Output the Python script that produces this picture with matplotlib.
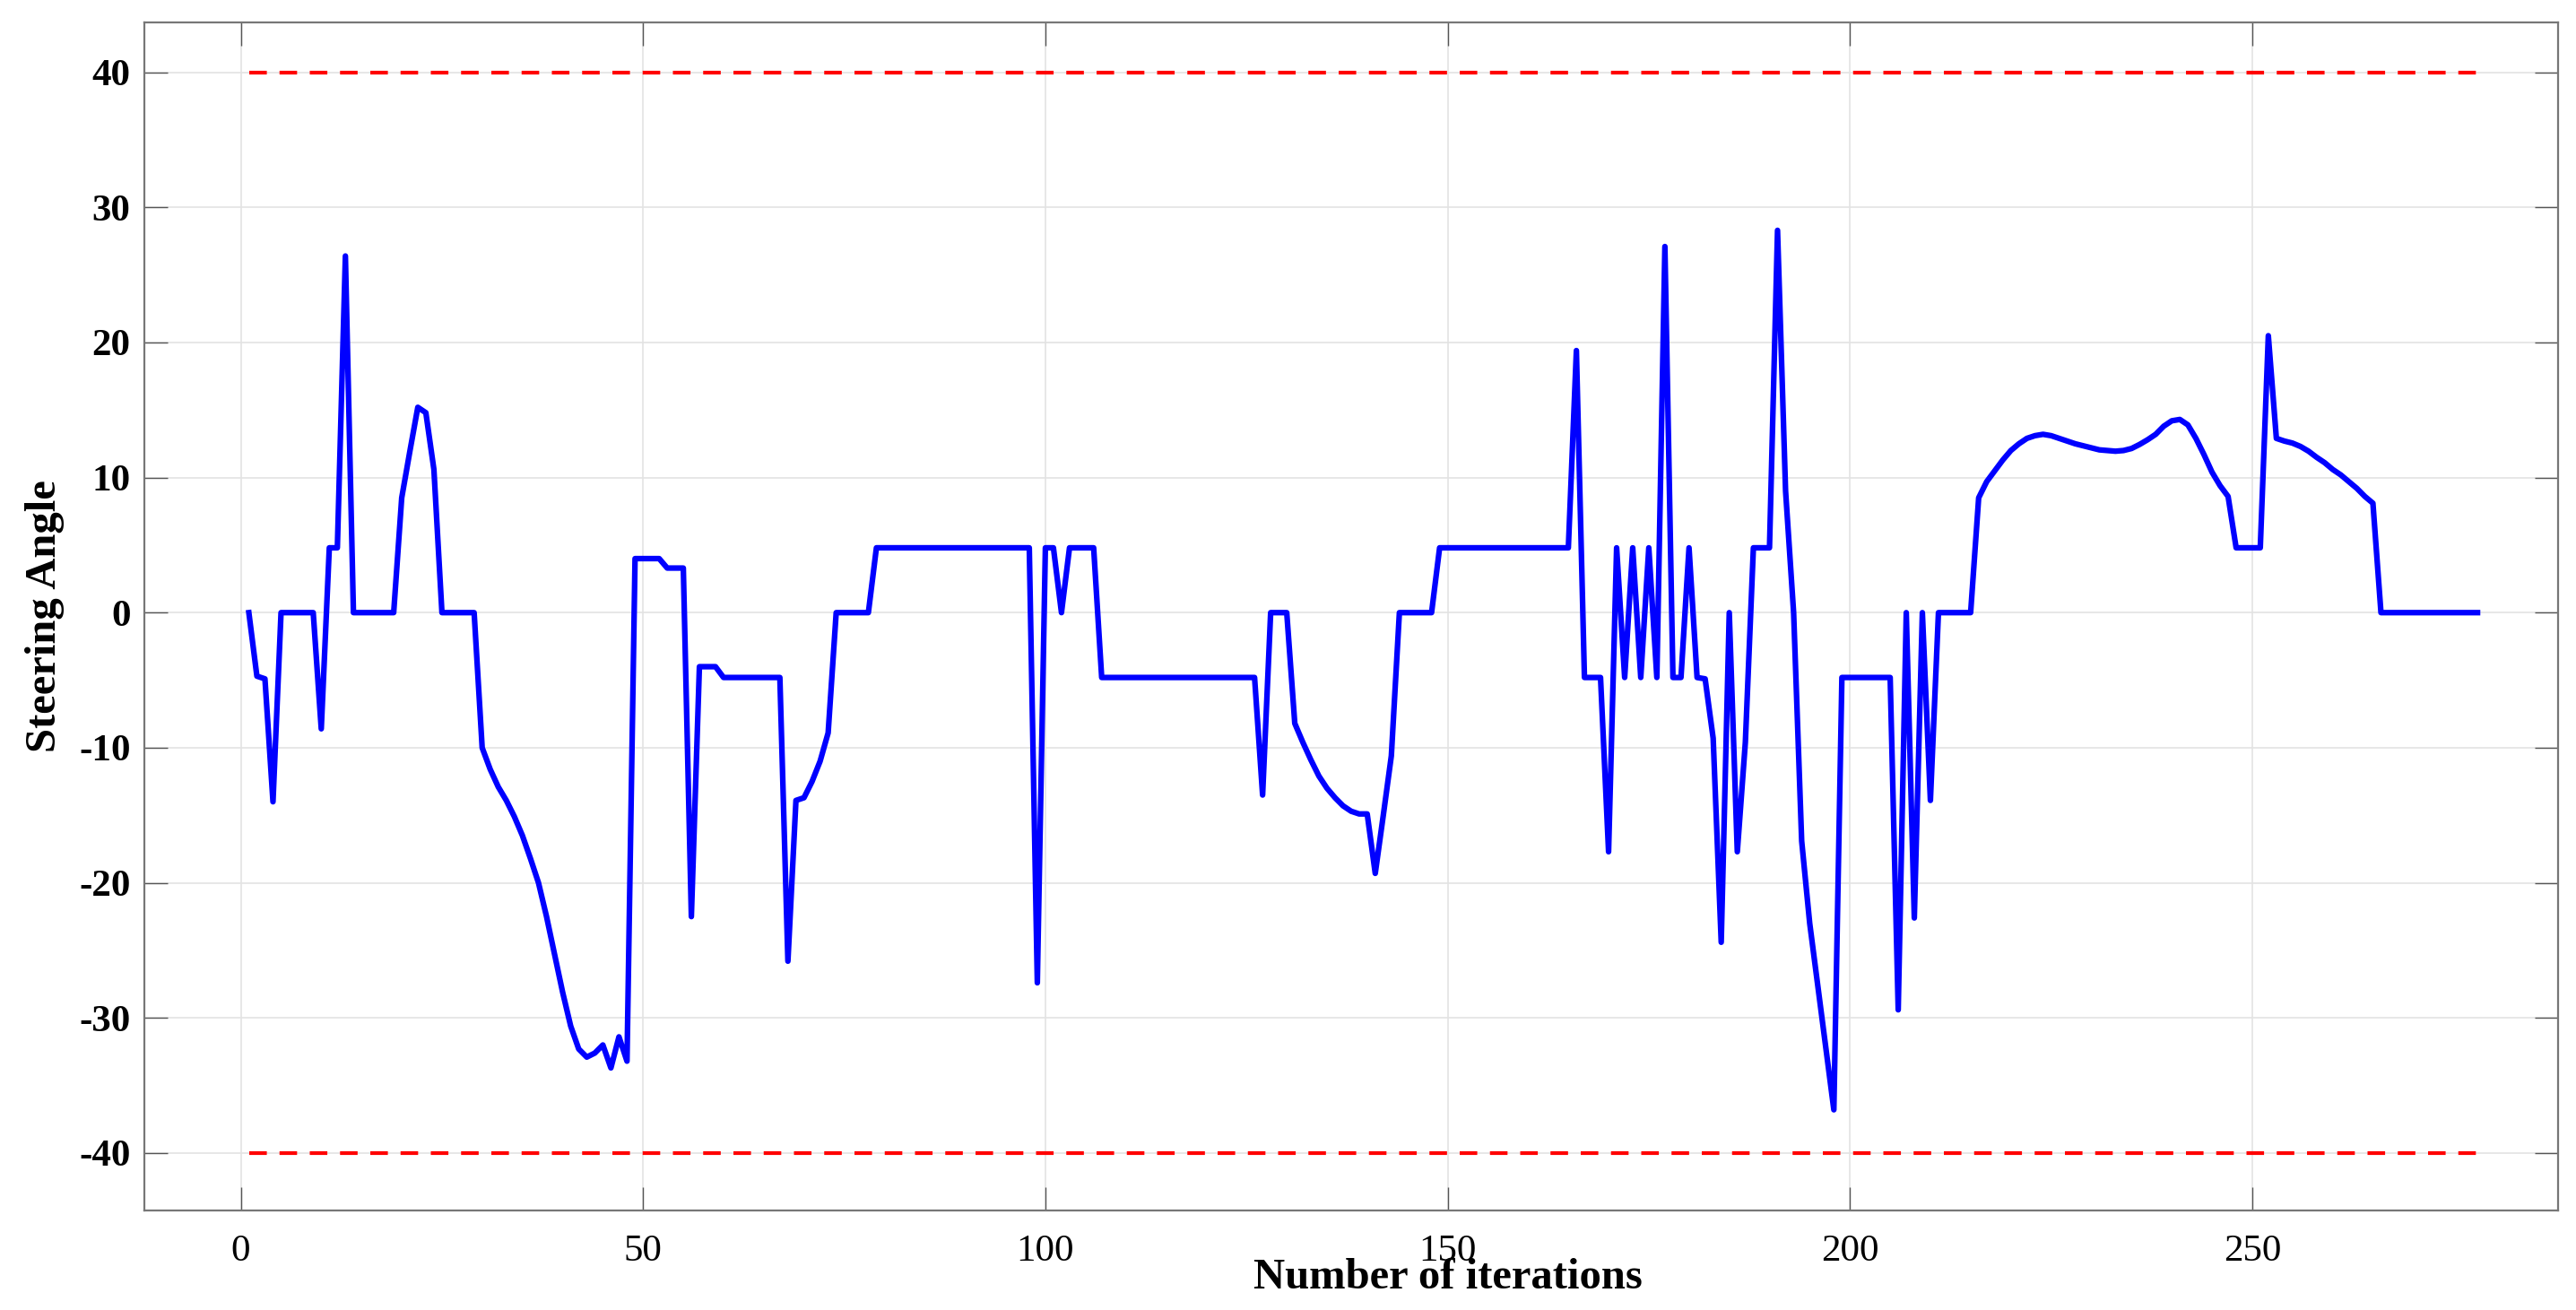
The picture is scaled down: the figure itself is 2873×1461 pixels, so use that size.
import numpy as np
import matplotlib
matplotlib.use("Agg")
import matplotlib.pyplot as plt

# steering angle, one value per iteration (1..278)
steering = (
    [0, -4.7, -4.9, -14.0, 0, 0, 0, 0, 0, -8.6, 4.8, 4.8, 26.4, 0, 0, 0, 0, 0, 0]
    + [8.5, 11.9, 15.2, 14.8, 10.6, 0, 0, 0, 0, 0]
    + [-10.0, -11.6, -12.9, -13.9, -15.1, -16.5, -18.2, -20.0, -22.5, -25.3,
       -28.1, -30.6, -32.3, -32.9, -32.6, -32.0, -33.7, -31.4, -33.2]
    + [4.0, 4.0, 4.0, 4.0, 3.3, 3.3, 3.3, -22.5, -4.0, -4.0, -4.0]
    + [-4.8] * 8
    + [-25.8, -13.9, -13.7, -12.5, -11.0, -8.9, 0, 0, 0, 0, 0]
    + [4.8] * 20
    + [-27.4, 4.8, 4.8, 0, 4.8, 4.8, 4.8, 4.8]
    + [-4.8] * 20
    + [-13.5, 0, 0, 0, -8.2, -9.6, -10.9, -12.1, -13.0, -13.7, -14.3, -14.7,
       -14.9, -14.9, -19.3, -15.0, -10.6, 0, 0, 0, 0, 0]
    + [4.8] * 17
    + [19.4, -4.8, -4.8, -4.8, -17.7, 4.8, -4.8, 4.8, -4.8, 4.8, -4.8, 27.1,
       -4.8, -4.8, 4.8, -4.8, -4.9, -9.3, -24.4, 0, -17.7, -9.6, 4.8, 4.8, 4.8,
       28.3, 9.0, 0, -16.9, -23.0, -27.6, -32.2, -36.8]
    + [-4.8] * 7
    + [-29.4, 0, -22.6, 0, -13.9, 0, 0, 0, 0, 0]
    + [8.5, 9.7, 10.5, 11.3, 12.0, 12.5, 12.9, 13.1, 13.2, 13.1, 12.9, 12.7,
       12.5, 12.35, 12.2, 12.05, 12.0, 11.95, 12.0, 12.15, 12.45, 12.8, 13.2,
       13.8, 14.2, 14.3, 13.9, 12.9, 11.7, 10.4, 9.4, 8.6]
    + [4.8, 4.8, 4.8, 4.8]
    + [20.5, 12.9, 12.7, 12.55, 12.3, 11.95, 11.5, 11.1, 10.6, 10.2, 9.7, 9.2,
       8.6, 8.1]
    + [0] * 13
)
iterations = np.arange(1, len(steering) + 1)
assert len(steering) == 278

upper_limit = 40
lower_limit = -40

xticks = [0, 50, 100, 150, 200, 250]
yticks = [-40, -30, -20, -10, 0, 10, 20, 30, 40]

plt.rcParams['axes.unicode_minus'] = False

fig = plt.figure(figsize=(28.73, 14.61), dpi=100)
ax = fig.add_axes([0.056, 0.076, 0.937, 0.907])

ax.plot(iterations, steering, color=(0, 0, 1), lw=4.5, zorder=3)
ax.plot([iterations[0], iterations[-1]], [upper_limit, upper_limit],
        color=(1, 0, 0), lw=3.0, dashes=(4.7, 3.4), zorder=2)
ax.plot([iterations[0], iterations[-1]], [lower_limit, lower_limit],
        color=(1, 0, 0), lw=3.0, dashes=(4.7, 3.4), zorder=2)

ax.set_xlim(-12, 288)
ax.set_ylim(-44.25, 43.7)
ax.set_xticks(xticks)
ax.set_yticks(yticks)

ax.grid(True, color='#e3e3e3', lw=1.2)
ax.set_axisbelow(True)

ax.tick_params(axis='both', direction='in', length=19, width=1.0,
               color='#555555', top=True, right=True)
ax.tick_params(axis='x', pad=19)
ax.tick_params(axis='y', pad=11)
for lab in ax.get_xticklabels():
    lab.set_fontfamily('Liberation Serif')
    lab.set_fontsize(31)
for lab in ax.get_yticklabels():
    lab.set_fontfamily('Liberation Serif')
    lab.set_fontweight('bold')
    lab.set_fontsize(31)

for sp in ax.spines.values():
    sp.set_color('#777777')
    sp.set_linewidth(1.6)

ax.set_xlabel('Number of iterations', fontfamily='Liberation Serif',
              fontweight='bold', fontsize=35)
ax.set_ylabel('Steering Angle', fontfamily='Liberation Serif',
              fontweight='bold', fontsize=35)
ax.xaxis.set_label_coords(0.540, -0.040)
ax.yaxis.set_label_coords(-0.033, 0.5)

fig.savefig('out.png', dpi=100, facecolor='white')
